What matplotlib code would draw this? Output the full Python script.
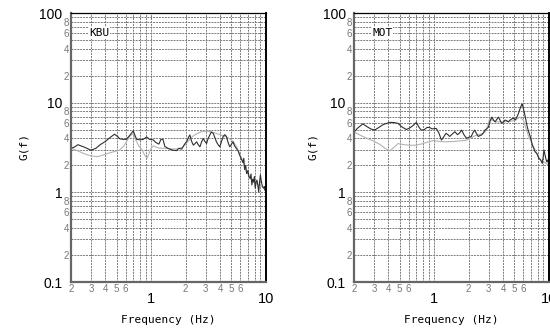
import numpy as np
import matplotlib.pyplot as plt
from matplotlib.ticker import FixedLocator, FuncFormatter

# KBU station, dark (noisy) and light curves
kbu_dark_f = [0.20, 0.215, 0.23, 0.26, 0.30, 0.33, 0.36, 0.40, 0.44, 0.48, 0.51, 0.535, 0.57, 0.61,
              0.65, 0.70, 0.73, 0.75, 0.80, 0.855, 0.915, 0.97, 1.045, 1.10, 1.17, 1.22, 1.27, 1.32,
              1.40, 1.46, 1.55, 1.67, 1.75, 1.85, 1.92, 1.98, 2.05, 2.12, 2.18, 2.26, 2.34, 2.42,
              2.50, 2.58, 2.67, 2.75, 2.85, 2.95, 3.05, 3.15, 3.26, 3.35, 3.49, 3.6, 3.72, 3.85,
              3.98, 4.12, 4.26, 4.40, 4.55, 4.70, 4.86, 5.0, 5.2, 5.35, 5.55, 5.75, 5.93, 6.15,
              6.34, 6.45, 6.55, 6.7, 6.82, 7.0, 7.15, 7.32, 7.45, 7.58, 7.7, 7.84, 7.97, 8.11,
              8.25, 8.4, 8.55, 8.69, 8.85, 9.0, 9.15, 9.3, 9.45, 9.63, 9.76, 9.88, 10.0]
kbu_dark_g = [3.1, 3.2, 3.4, 3.2, 2.95, 3.1, 3.4, 3.7, 4.1, 4.45, 4.2, 3.95, 3.9, 3.9,
              4.3, 4.85, 4.2, 3.9, 3.85, 3.9, 4.15, 3.9, 3.85, 3.6, 3.45, 3.9, 3.9, 3.25,
              3.1, 3.03, 2.95, 2.92, 3.1, 3.03, 3.3, 3.5, 3.7, 4.1, 4.37, 3.7, 3.36, 3.5,
              3.66, 3.4, 3.22, 3.6, 4.0, 3.7, 3.5, 4.0, 4.37, 4.7, 4.55, 4.1, 3.66, 3.4,
              3.22, 3.7, 4.2, 4.4, 4.2, 3.6, 3.22, 3.4, 3.66, 3.3, 3.09, 2.9, 2.6, 2.35,
              2.15, 2.4, 1.8, 2.0, 1.62, 1.75, 1.5, 1.43, 1.6, 1.21, 1.4, 1.31, 1.5, 1.11,
              1.3, 1.37, 1.2, 1.01, 1.3, 1.57, 1.35, 1.21, 1.15, 1.11, 1.16, 1.05, 1.1]
kbu_light_f = [0.20, 0.23, 0.26, 0.30, 0.34, 0.38, 0.43, 0.48, 0.53, 0.58, 0.62, 0.66, 0.70, 0.74,
               0.78, 0.83, 0.88, 0.92, 0.96, 1.0, 1.05, 1.1, 1.2, 1.35, 1.5, 1.7, 1.9, 2.1,
               2.3, 2.5, 2.75, 3.0, 3.3, 3.6, 4.0, 4.4, 4.8, 5.2, 5.6, 6.0, 6.4, 6.8,
               7.3, 7.8, 8.3, 8.8, 9.3, 10.0]
kbu_light_g = [3.1, 2.9, 2.7, 2.55, 2.5, 2.6, 2.75, 2.85, 2.95, 3.3, 3.8, 4.3, 4.5, 3.8,
               3.3, 3.0, 2.6, 2.4, 2.7, 3.1, 3.3, 3.2, 3.1, 3.1, 3.05, 3.05, 3.2, 3.7,
               4.2, 4.5, 4.75, 4.8, 4.75, 4.6, 4.4, 4.2, 4.0, 3.7, 3.2, 2.6, 2.1, 1.7,
               1.45, 1.3, 1.25, 1.2, 1.15, 1.1]

# MOT station
mot_dark_f = [0.20, 0.215, 0.239, 0.26, 0.28, 0.303, 0.33, 0.36, 0.41, 0.45, 0.484, 0.52, 0.572,
              0.61, 0.66, 0.70, 0.74, 0.773, 0.82, 0.87, 0.915, 0.96, 1.045, 1.10, 1.16, 1.22,
              1.27, 1.32, 1.37, 1.45, 1.52, 1.60, 1.67, 1.74, 1.82, 1.92, 2.0, 2.11, 2.18, 2.26,
              2.35, 2.43, 2.52, 2.60, 2.70, 2.78, 2.88, 2.98, 3.08, 3.19, 3.30, 3.41, 3.52, 3.65,
              3.78, 3.9, 4.04, 4.17, 4.3, 4.46, 4.6, 4.77, 4.93, 5.1, 5.28, 5.45, 5.58, 5.7,
              5.85, 5.92, 6.05, 6.2, 6.3, 6.4, 6.6, 6.9, 7.05, 7.2, 7.4, 7.6, 7.9, 8.2, 8.5,
              8.8, 8.95, 9.1, 9.3, 9.6, 9.8, 10.0]
mot_dark_g = [4.7, 5.2, 5.8, 5.4, 5.1, 4.95, 5.3, 5.7, 6.03, 6.0, 5.88, 5.4, 5.02,
              5.2, 5.6, 6.03, 5.3, 4.95, 5.0, 5.3, 5.28, 5.1, 5.16, 4.6, 3.83, 4.2,
              4.55, 4.4, 4.2, 4.5, 4.74, 4.4, 4.6, 4.95, 4.4, 4.0, 4.1, 4.2, 4.6, 4.95,
              4.5, 4.2, 4.3, 4.37, 4.6, 4.95, 5.1, 5.34, 6.2, 6.9, 6.4, 6.1, 6.5, 6.9,
              6.3, 5.88, 6.1, 6.4, 6.3, 6.1, 6.4, 6.6, 6.7, 6.4, 6.9, 7.6, 8.3, 9.0,
              9.6, 9.4, 8.3, 7.25, 6.6, 5.88, 5.0, 4.2, 3.8, 3.36, 3.1, 2.84, 2.7, 2.4, 2.3,
              2.1, 2.5, 2.96, 2.6, 2.19, 2.3, 2.05]
mot_light_f = [0.20, 0.23, 0.26, 0.30, 0.34, 0.38, 0.41, 0.45, 0.484, 0.55, 0.62, 0.70, 0.80,
               0.90, 1.0, 1.1, 1.25, 1.5, 1.7, 1.9, 2.05, 2.3, 2.6, 2.78, 2.95, 3.05, 3.2,
               3.5, 4.0, 4.5, 5.0, 5.6, 6.0, 6.3, 6.6, 7.0, 7.5, 8.0, 8.5, 9.0, 9.5, 10.0]
mot_light_g = [4.7, 4.3, 4.0, 3.7, 3.4, 3.05, 2.9, 3.2, 3.5, 3.4, 3.35, 3.36, 3.5,
               3.66, 3.8, 3.7, 3.66, 3.7, 3.75, 3.8, 4.0, 4.3, 4.5, 4.7, 5.6, 6.6, 6.4,
               6.1, 6.1, 6.2, 6.3, 6.9, 6.4, 5.3, 4.4, 3.7, 3.1, 2.6, 2.3, 2.2, 2.1, 2.0]

x_major = [1, 10]
x_minor = [0.2, 0.3, 0.4, 0.5, 0.6, 0.7, 0.8, 0.9, 2, 3, 4, 5, 6, 7, 8, 9]
x_minor_labeled = [2, 3, 4, 5, 6]
y_major = [0.1, 1, 10, 100]
y_minor = [m * d for d in (0.1, 1, 10) for m in range(2, 10)]
y_minor_labeled = [2, 4, 6, 8]

num_font = ['Liberation Sans Narrow', 'DejaVu Sans Condensed', 'Liberation Sans']
mono_font = 'DejaVu Sans Mono'


def lead_digit(v):
    return int(round(v / 10 ** np.floor(np.log10(v) + 1e-9)))


def fmt_major(v, pos):
    return {0.1: '0.1', 1: '1', 10: '10', 100: '100'}.get(v, '%g' % v)


def fmt_x_minor(v, pos):
    d = lead_digit(v)
    return str(d) if d in x_minor_labeled else ''


def fmt_y_minor(v, pos):
    d = lead_digit(v)
    return str(d) if d in y_minor_labeled else ''


def style_axes(ax, name):
    ax.set_xscale('log')
    ax.set_yscale('log')
    ax.set_xlim(0.2, 10)
    ax.set_ylim(0.1, 100)
    ax.xaxis.set_major_locator(FixedLocator(x_major))
    ax.xaxis.set_minor_locator(FixedLocator(x_minor))
    ax.yaxis.set_major_locator(FixedLocator(y_major))
    ax.yaxis.set_minor_locator(FixedLocator(y_minor))
    ax.xaxis.set_major_formatter(FuncFormatter(fmt_major))
    ax.yaxis.set_major_formatter(FuncFormatter(fmt_major))
    ax.xaxis.set_minor_formatter(FuncFormatter(fmt_x_minor))
    ax.yaxis.set_minor_formatter(FuncFormatter(fmt_y_minor))
    ax.tick_params(which='both', length=0)
    ax.tick_params(axis='x', which='major', pad=7, labelsize=10.5)
    ax.tick_params(axis='x', which='minor', pad=1.5, labelsize=7, labelcolor='#777777')
    ax.tick_params(axis='y', which='major', pad=6, labelsize=10)
    ax.tick_params(axis='y', which='minor', pad=1.5, labelsize=7, labelcolor='#777777')
    for lab in ax.get_xticklabels(which='both') + ax.get_yticklabels(which='both'):
        lab.set_family(num_font)
    ax.grid(True, which='both', color='#7a7a7a', lw=0.7, ls=(0, (2, 1)))
    ax.set_axisbelow(True)
    ax.spines['left'].set_color('#666666')
    ax.spines['left'].set_linewidth(1.6)
    ax.spines['bottom'].set_color('#666666')
    ax.spines['bottom'].set_linewidth(1.6)
    ax.spines['right'].set_linewidth(1.4)
    ax.spines['top'].set_linewidth(0.9)
    ax.text(0.29, 60, name, fontsize=8, family=mono_font, va='center', ha='left',
            bbox=dict(facecolor='white', edgecolor='none', pad=0.5))
    ax.text(0.5, -0.141, 'Frequency (Hz)', transform=ax.transAxes, fontsize=8,
            family=mono_font, ha='center', va='center')


fig = plt.figure(figsize=(5.5, 3.31), dpi=100)
ax1 = fig.add_axes([0.129, 0.148, 0.354, 0.8127])
ax2 = fig.add_axes([0.6436, 0.148, 0.354, 0.8127])

ax1.plot(kbu_light_f, kbu_light_g, color='#b4b4b4', lw=0.8)
ax1.plot(kbu_dark_f, kbu_dark_g, color='#303030', lw=0.8)
ax2.plot(mot_light_f, mot_light_g, color='#b4b4b4', lw=0.8)
ax2.plot(mot_dark_f, mot_dark_g, color='#303030', lw=0.8)

style_axes(ax1, 'KBU')
style_axes(ax2, 'MOT')

fig.text(24 / 550, 1 - 147 / 331, 'G(f)', rotation=90, fontsize=8, family=mono_font,
         ha='center', va='center')
fig.text(313 / 550, 1 - 147 / 331, 'G(f)', rotation=90, fontsize=8, family=mono_font,
         ha='center', va='center')

fig.savefig('out.png', dpi=100)
